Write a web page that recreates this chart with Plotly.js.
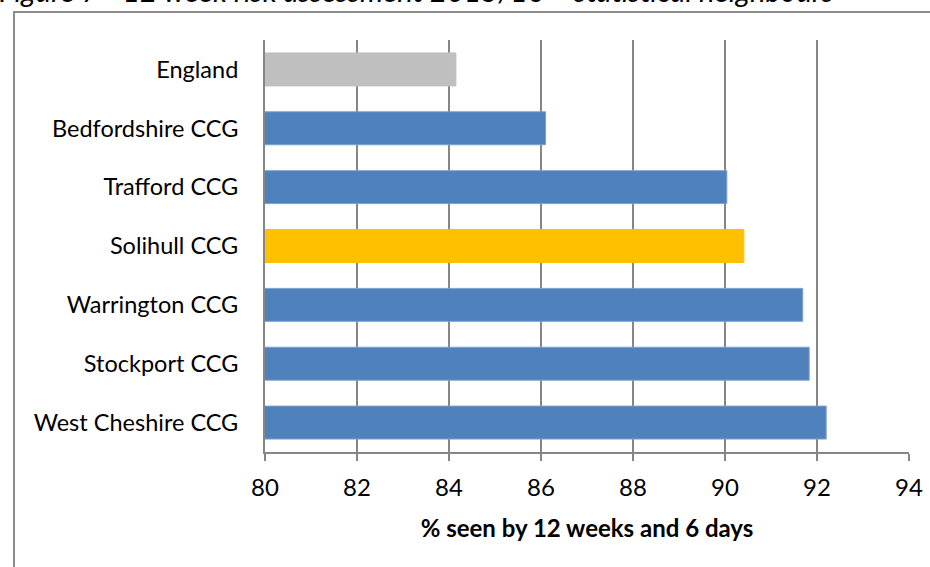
<!DOCTYPE html>
<html>
<head>
<meta charset="utf-8">
<script src="https://cdn.plot.ly/plotly-3.0.1.min.js"></script>
<style>
  html, body { margin: 0; padding: 0; background: #ffffff; }
  #chart { width: 930px; height: 567px; }
</style>
</head>
<body>
<div id="chart"></div>
<script>
const categories = ["England", "Bedfordshire CCG", "Trafford CCG", "Solihull CCG", "Warrington CCG", "Stockport CCG", "West Cheshire CCG"];
const values = [84.15, 86.1, 90.04, 90.41, 91.69, 91.83, 92.2];
const barColors = ["#BFBFBF", "#4F81BD", "#4F81BD", "#FFC000", "#4F81BD", "#4F81BD", "#4F81BD"];
const barEdges = ["#BFBFBF", "#7EA1CF", "#7EA1CF", "#FFC000", "#7EA1CF", "#7EA1CF", "#7EA1CF"];
const xTicks = [80, 82, 84, 86, 88, 90, 92, 94];
const titleText = "Figure 7 - 12 week risk assessment 2015/16 \u2013 statistical neighbours";
const xTitle = "% seen by 12 weeks and 6 days";

const FONT = "Lato, 'Open Sans', sans-serif";
const W = 930, H = 567;
const L = 265, R = 21, T = 40, B = 115;
const pw = W - L - R, ph = H - T - B;
const px = x => (x - L) / pw;
const py = y => (H - B - y) / ph;

const trace = {
  type: "bar",
  orientation: "h",
  y: categories,
  x: values,
  base: 0,
  marker: { color: barColors, line: { color: barEdges, width: 1 } },
  hoverinfo: "x+y"
};

const layout = {
  width: W, height: H,
  margin: { l: L, r: R, t: T, b: B, pad: 0 },
  paper_bgcolor: "#ffffff",
  plot_bgcolor: "#ffffff",
  showlegend: false,
  bargap: 0.44,
  font: { family: FONT, color: "#000000", size: 23.5 },
  xaxis: {
    range: [80, 94],
    tickvals: xTicks,
    ticktext: xTicks.map(String),
    showgrid: true,
    gridcolor: "#868686",
    gridwidth: 2,
    zeroline: false,
    showline: true,
    linecolor: "#868686",
    linewidth: 2,
    ticks: "outside",
    ticklen: 7,
    tickwidth: 2,
    tickcolor: "#868686",
    ticklabelstandoff: 6,
    tickfont: { family: FONT, size: 24, color: "#000" },
    title: { text: "<b>" + xTitle + "</b>", font: { family: FONT, size: 24, color: "#000" }, standoff: 20 },
    fixedrange: true
  },
  yaxis: {
    type: "category",
    autorange: "reversed",
    showgrid: false,
    zeroline: false,
    showline: true,
    linecolor: "#868686",
    linewidth: 2,
    ticks: "",
    ticklabelstandoff: 20,
    tickfont: { family: FONT, size: 23.5, color: "#000" },
    fixedrange: true
  },
  shapes: [
    {
      type: "rect", xref: "paper", yref: "paper",
      x0: px(14), x1: px(935), y0: py(590), y1: py(12),
      line: { color: "#8C8C8C", width: 2 }, fillcolor: "rgba(0,0,0,0)", layer: "below"
    }
  ],
  annotations: [
    {
      xref: "paper", yref: "paper",
      x: px(-3), y: py(10),
      xanchor: "left", yanchor: "bottom",
      showarrow: false,
      text: "<i>" + titleText + "</i>",
      font: { family: FONT, size: 29.5, color: "#000" }
    }
  ]
};

Plotly.newPlot("chart", [trace], layout, { displayModeBar: false, staticPlot: true });
</script>
</body>
</html>
